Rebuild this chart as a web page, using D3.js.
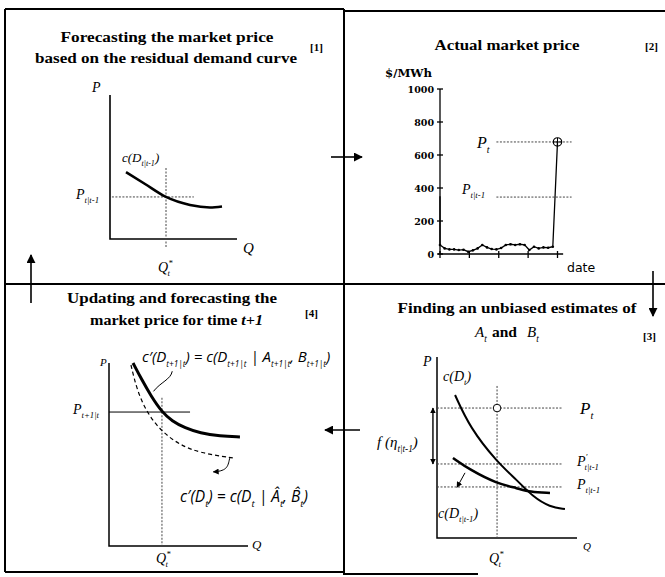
<!DOCTYPE html>
<html><head><meta charset="utf-8">
<script src="https://cdn.jsdelivr.net/npm/d3@7"></script>
<style>body{margin:0;background:#fff}svg{display:block}</style>
</head><body>
<script>
// ---- Panel [2]: observed market price ($/MWh) by date index ----
const priceDates  = [0, 0, 1, 2, 3, 4, 5, 6, 7, 8, 9, 10, 11, 12, 13, 14, 15, 16, 17, 18, 19, 20, 21, 22, 23, 24, 25];
const priceValues = [350, 55, 34, 28, 28, 24, 26, 14, 22, 34, 55, 40, 30, 28, 36, 55, 59, 55, 59, 55, 24, 44, 34, 40, 38, 44, 679];
const priceTicks  = [0, 200, 400, 600, 800, 1000];
const dateTicks   = [0, 6.25, 12.5, 18.75, 25];
const actualPrice = 679;      // P_t
const forecastPrice = 345;    // P_t|t-1

// ---- Panel [1]: residual demand curve c(D_t|t-1) ----
const q1 = [1.26, 2.76, 4.41, 6.30, 7.87, 8.82];
const p1 = [4.65, 3.82, 2.92, 2.36, 2.19, 2.26];
const q1Star = 4.41, p1Forecast = 2.92;

// ---- Panel [3]: c(D_t) versus c(D_t|t-1) ----
const q3New = [1.29, 2.36, 4.29, 5.71, 6.86, 8.07, 9.14];
const p3New = [7.9, 6.08, 4.2, 3.2, 2.27, 1.71, 1.6];
const q3Old = [1.14, 2.36, 4.29, 5.71, 6.64, 8.07];
const p3Old = [4.42, 3.76, 3.0, 2.76, 2.54, 2.49];
const q3Star = 4.29;
const p3Levels = {actual: 7.18, adjusted: 4.09, forecast: 2.82};

// ---- Panel [4]: updated curve c'(D_t+1|t) and c'(D_t) ----
const q4Upd = [1.73, 2.37, 3.02, 3.81, 4.53, 5.47, 6.55, 7.99, 9.42];
const p4Upd = [10.0, 9.07, 8.20, 7.32, 6.83, 6.45, 6.17, 6.01, 5.96];
const q4Est = [1.58, 2.01, 2.73, 3.81, 5.11, 6.55, 8.92];
const p4Est = [9.89, 8.52, 7.27, 6.23, 5.52, 5.08, 4.81];
const q4Star = 3.81, p4Forecast = 7.32;

const W = 665, H = 577;
const svg = d3.select("body").append("svg").attr("width", W).attr("height", H);
svg.append("rect").attr("width", W).attr("height", H).attr("fill", "#fff");

const defs = svg.append("defs");
defs.append("marker").attr("id", "head").attr("viewBox", "0 0 10 10")
  .attr("refX", 9).attr("refY", 5).attr("markerWidth", 9).attr("markerHeight", 9)
  .attr("markerUnits", "userSpaceOnUse").attr("orient", "auto-start-reverse")
  .append("path").attr("d", "M0,0 L10,5 L0,10 Z").attr("fill", "#000");
defs.append("marker").attr("id", "small").attr("viewBox", "0 0 10 10")
  .attr("refX", 9).attr("refY", 5).attr("markerWidth", 6).attr("markerHeight", 6)
  .attr("markerUnits", "userSpaceOnUse").attr("orient", "auto-start-reverse")
  .append("path").attr("d", "M0,0 L10,5 L0,10 Z").attr("fill", "#000");

const SERIF = "'Liberation Serif', 'DejaVu Serif', serif";
const SANS = "'Open Sans', 'DejaVu Sans', sans-serif";

// text with sub/superscript runs: parts are strings or [text, "sub"|"sup", dx]
function rich(g, x, y, parts, o) {
  const t = g.append("text").attr("x", x).attr("y", y)
    .attr("font-family", o.family || SERIF).attr("font-size", o.size)
    .attr("font-style", o.style || "italic").attr("font-weight", o.weight || "normal")
    .attr("text-anchor", o.anchor || "start").attr("fill", "#000");
  const sc = o.subScale || 0.62;
  let shift = 0;
  parts.forEach(p => {
    const [s, kind, dx] = typeof p === "string" ? [p, null, 0] : p;
    const target = kind === "sub" ? o.size * 0.3 : kind === "sup" ? -o.size * 0.45 : 0;
    const ts = t.append("tspan").text(s).attr("dy", target - shift);
    if (dx) ts.attr("dx", dx);
    if (kind) ts.attr("font-size", o.size * sc);
    shift = target;
  });
  return t;
}
function title(x, y, str, width) {
  return svg.append("text").attr("x", x).attr("y", y).attr("text-anchor", "middle")
    .attr("font-family", SERIF).attr("font-weight", "bold").attr("font-size", 15.5)
    .attr("textLength", width).attr("lengthAdjust", "spacingAndGlyphs").text(str);
}
function tag(x, y, str) {
  svg.append("text").attr("x", x).attr("y", y).attr("font-family", SERIF)
    .attr("font-weight", "bold").attr("font-size", 11).text(str);
}
const dotted = sel => sel.attr("stroke", "#444").attr("stroke-width", 1).attr("stroke-dasharray", "2,1.5").attr("fill", "none");

// ---------- frame and flow arrows ----------
const frame = svg.append("g").attr("stroke", "#000").attr("stroke-width", 2).attr("fill", "none");
frame.append("line").attr("x1", 5).attr("y1", 9).attr("x2", 344).attr("y2", 9);
frame.append("line").attr("x1", 344).attr("y1", 11).attr("x2", 665).attr("y2", 11);
frame.append("line").attr("x1", 5).attr("y1", 9).attr("x2", 5).attr("y2", 572);
frame.append("line").attr("x1", 344).attr("y1", 9).attr("x2", 344).attr("y2", 575);
frame.append("line").attr("x1", 5).attr("y1", 284).attr("x2", 665).attr("y2", 284);
frame.append("line").attr("x1", 5).attr("y1", 572).attr("x2", 344).attr("y2", 572);
frame.append("line").attr("x1", 344).attr("y1", 574).attr("x2", 478).attr("y2", 574);

const flow = svg.append("g").attr("stroke", "#000").attr("stroke-width", 1.6);
flow.append("line").attr("x1", 331).attr("y1", 157).attr("x2", 362).attr("y2", 157).attr("marker-end", "url(#head)");
flow.append("line").attr("x1", 653).attr("y1", 271).attr("x2", 653).attr("y2", 316).attr("marker-end", "url(#head)");
flow.append("line").attr("x1", 360).attr("y1", 430).attr("x2", 325).attr("y2", 430).attr("marker-end", "url(#head)");
flow.append("line").attr("x1", 31).attr("y1", 303).attr("x2", 31).attr("y2", 255).attr("marker-end", "url(#head)");

// ---------- panel [1] ----------
title(167, 42, "Forecasting the market price", 213);
title(166, 63, "based on the residual demand curve", 262);
tag(310, 51, "[1]");
{
  const x = d3.scaleLinear([0, 10], [110, 237]);
  const y = d3.scaleLinear([0, 10], [239, 95]);
  const g = svg.append("g");
  g.append("path").attr("d", `M${x(0)},${y(10)}V${y(0)}H${x(10)}`).attr("stroke", "#000").attr("stroke-width", 1.6).attr("fill", "none");
  g.append("line").attr("x1", x(q1Star)).attr("x2", x(q1Star)).attr("y1", y(4.93)).attr("y2", y(-0.6)).call(dotted);
  g.append("line").attr("x1", x(0.15)).attr("x2", x(6.6)).attr("y1", y(p1Forecast)).attr("y2", y(p1Forecast)).call(dotted);
  const line = d3.line().x(d => x(d[0])).y(d => y(d[1])).curve(d3.curveMonotoneX);
  g.append("path").attr("d", line(d3.zip(q1, p1))).attr("stroke", "#000").attr("stroke-width", 2.6).attr("fill", "none");
  rich(g, 92, 92, ["P"], {size: 14});
  rich(g, 243, 253, ["Q"], {size: 15});
  rich(g, 158, 272, ["Q", ["*", "sup"], ["t", "sub", -5]], {size: 14});
  rich(g, 122, 162, ["c(D", ["t|t-1", "sub"], ")"], {size: 13});
  rich(g, 76, 199, ["P", ["t|t-1", "sub"]], {size: 14});
}

// ---------- panel [2] ----------
title(507, 50, "Actual market price", 145);
tag(645, 50, "[2]");
{
  const x = d3.scaleLinear([0, 25], [440, 557.5]);
  const y = d3.scaleLinear([0, 1000], [254, 89]);
  const g = svg.append("g");
  const ax = g.append("g").attr("stroke", "#000").attr("stroke-width", 1.3);
  ax.append("line").attr("x1", x(0)).attr("x2", x(0)).attr("y1", y(1000)).attr("y2", y(0));
  ax.append("line").attr("x1", x(0) - 2).attr("x2", x(26.2)).attr("y1", y(0)).attr("y2", y(0));
  priceTicks.forEach(v => ax.append("line").attr("x1", x(0) - 3).attr("x2", x(0) + 3).attr("y1", y(v)).attr("y2", y(v)));
  dateTicks.forEach(d => ax.append("line").attr("x1", x(d)).attr("x2", x(d)).attr("y1", y(0) - 3).attr("y2", y(0) + 4));
  g.selectAll("text.tk").data(priceTicks).join("text").attr("class", "tk")
    .attr("x", x(0) - 6).attr("y", d => y(d) + 3.5).attr("text-anchor", "end")
    .attr("font-family", "'DejaVu Serif', serif").attr("font-weight", "bold").attr("font-size", 9.5)
    .text(d => d);
  g.append("text").attr("x", 385).attr("y", 77).attr("font-family", "'DejaVu Serif', serif")
    .attr("font-weight", "bold").attr("font-size", 10.5).attr("textLength", 47)
    .attr("lengthAdjust", "spacingAndGlyphs").text("$/MWh");
  g.append("text").attr("x", 567).attr("y", 272).attr("font-family", "'DejaVu Sans', sans-serif")
    .attr("font-size", 12.5).text("date");
  g.append("line").attr("x1", x(12)).attr("x2", x(28)).attr("y1", y(actualPrice)).attr("y2", y(actualPrice)).call(dotted);
  g.append("line").attr("x1", x(12)).attr("x2", x(28)).attr("y1", y(forecastPrice)).attr("y2", y(forecastPrice)).call(dotted);
  const pts = d3.zip(priceDates, priceValues);
  g.append("path").attr("d", d3.line().x(d => x(d[0])).y(d => y(d[1]))(pts))
    .attr("stroke", "#000").attr("stroke-width", 1.3).attr("fill", "none");
  g.selectAll("circle.pt").data(pts.slice(1, -1)).join("circle").attr("class", "pt")
    .attr("cx", d => x(d[0])).attr("cy", d => y(d[1])).attr("r", 1.3).attr("fill", "#000");
  const last = pts[pts.length - 1];
  g.append("circle").attr("cx", x(last[0])).attr("cy", y(last[1])).attr("r", 4.2)
    .attr("fill", "none").attr("stroke", "#000").attr("stroke-width", 1.2);
  g.append("path").attr("d", `M${x(last[0]) - 4},${y(last[1])}h8M${x(last[0])},${y(last[1]) - 4}v8`)
    .attr("stroke", "#000").attr("stroke-width", 1);
  rich(g, 477, 148, ["P", ["t", "sub"]], {size: 16});
  rich(g, 462, 194, ["P", ["t|t-1", "sub"]], {size: 14});
}

// ---------- panel [3] ----------
title(517, 313, "Finding an unbiased estimates of", 239);
rich(svg, 475, 337, [["A", null], ["t", "sub"], [" ", null]], {size: 15});
svg.append("text").attr("x", 492).attr("y", 337).attr("font-family", SERIF).attr("font-weight", "bold").attr("font-size", 15.5).text("and");
rich(svg, 527, 337, ["B", ["t", "sub"]], {size: 15});
tag(643, 340, "[3]");
{
  const x = d3.scaleLinear([0, 10], [437, 577]);
  const y = d3.scaleLinear([0, 10], [538, 357]);
  const g = svg.append("g");
  g.append("path").attr("d", `M${x(0)},${y(10)}V${y(0)}H${x(10)}`).attr("stroke", "#000").attr("stroke-width", 1.5).attr("fill", "none");
  g.append("line").attr("x1", x(q3Star)).attr("x2", x(q3Star)).attr("y1", y(8.4)).attr("y2", y(0)).call(dotted);
  [p3Levels.actual, p3Levels.adjusted, p3Levels.forecast].forEach(v =>
    g.append("line").attr("x1", x(0)).attr("x2", x(9)).attr("y1", y(v)).attr("y2", y(v)).call(dotted));
  const line = d3.line().x(d => x(d[0])).y(d => y(d[1])).curve(d3.curveBasis);
  g.append("path").attr("d", line(d3.zip(q3New, p3New))).attr("stroke", "#000").attr("stroke-width", 2).attr("fill", "none");
  g.append("path").attr("d", line(d3.zip(q3Old, p3Old))).attr("stroke", "#000").attr("stroke-width", 2.6).attr("fill", "none");
  g.append("circle").attr("cx", x(q3Star)).attr("cy", y(p3Levels.actual)).attr("r", 3.8)
    .attr("fill", "#fff").attr("stroke", "#000").attr("stroke-width", 1);
  g.append("line").attr("x1", x(-0.29)).attr("x2", x(-0.29)).attr("y1", y(p3Levels.actual)).attr("y2", y(p3Levels.adjusted))
    .attr("stroke", "#000").attr("stroke-width", 1.4).attr("marker-start", "url(#small)").attr("marker-end", "url(#small)");
  g.append("path").attr("d", `M${x(2)},${y(3.6)}L${x(1.43)},${y(2.8)}`).attr("stroke", "#000")
    .attr("stroke-width", 1).attr("fill", "none").attr("marker-end", "url(#small)");
  rich(g, 423, 366, ["P"], {size: 14});
  rich(g, 443, 381, ["c(D", ["t", "sub"], ")"], {size: 14});
  rich(g, 377, 447, ["f (", "\u03B7", ["t|t-1", "sub"], ")"], {size: 15});
  rich(g, 580, 414, ["P", ["t", "sub"]], {size: 17});
  rich(g, 577, 466, ["P", ["\u2032", "sup"], ["t|t-1", "sub", -3]], {size: 14});
  rich(g, 577, 489, ["P", ["t|t-1", "sub"]], {size: 14});
  rich(g, 438, 518, ["c(D", ["t|t-1", "sub"], ")"], {size: 14});
  rich(g, 583, 550, ["Q"], {size: 11});
  rich(g, 489, 563, ["Q", ["*", "sup"], ["t", "sub", -5]], {size: 14});
}

// ---------- panel [4] ----------
title(172, 303, "Updating and forecasting the", 210);
{
  const t = svg.append("text").attr("x", 90).attr("y", 325).attr("font-family", SERIF)
    .attr("font-weight", "bold").attr("font-size", 15.5);
  t.append("tspan").text("market price for time ");
  t.append("tspan").attr("font-style", "italic").text("t+1");
  t.attr("textLength", 173).attr("lengthAdjust", "spacingAndGlyphs");
}
tag(305, 317, "[4]");
{
  const x = d3.scaleLinear([0, 10], [109, 248]);
  const y = d3.scaleLinear([0, 10], [546, 363]);
  const g = svg.append("g");
  g.append("path").attr("d", `M${x(0)},${y(10)}V${y(0)}H${x(10)}`).attr("stroke", "#000").attr("stroke-width", 1.5).attr("fill", "none");
  g.append("line").attr("x1", x(q4Star)).attr("x2", x(q4Star)).attr("y1", y(8.1)).attr("y2", y(0)).call(dotted);
  g.append("line").attr("x1", x(0)).attr("x2", x(5.83)).attr("y1", y(p4Forecast)).attr("y2", y(p4Forecast))
    .attr("stroke", "#000").attr("stroke-width", 1);
  const line = d3.line().x(d => x(d[0])).y(d => y(d[1])).curve(d3.curveBasis);
  g.append("path").attr("d", line(d3.zip(q4Est, p4Est))).attr("stroke", "#000").attr("stroke-width", 1.2)
    .attr("stroke-dasharray", "4,3").attr("fill", "none");
  g.append("path").attr("d", line(d3.zip(q4Upd, p4Upd))).attr("stroke", "#000").attr("stroke-width", 3).attr("fill", "none");
  // leader lines from the labels to their curves
  g.append("path").attr("d", `M${x(4.55)},${y(9.55)}C${x(4.45)},${y(9.1)} ${x(3.7)},${y(8.95)} ${x(3.2)},${y(8.45)}`)
    .attr("stroke", "#000").attr("stroke-width", 1).attr("fill", "none");
  g.append("path").attr("d", `M${x(8.7)},${y(4.85)}C${x(8.55)},${y(4.4)} ${x(8.6)},${y(4.1)} ${x(7.5)},${y(4.05)}`)
    .attr("stroke", "#000").attr("stroke-width", 1).attr("fill", "none").attr("marker-end", "url(#small)");
  rich(g, 100, 366, ["P"], {size: 11});
  rich(g, 73, 414, ["P", ["t+1|t", "sub"]], {size: 14});
  rich(g, 142, 362, ["c\u2032(D", ["t+1|t", "sub"], ") = c(D", ["t+1|t", "sub"], " | A", ["t+1|t", "sub"], ", B", ["t+1|t", "sub"], ")"],
    {size: 15, family: SANS, subScale: 0.55});
  rich(g, 180, 502, ["c\u2032(D", ["t", "sub"], ") = c(D", ["t", "sub"], " | \u00C2", ["t", "sub"], ", B\u0302", ["t", "sub"], ")"],
    {size: 15.5, family: SANS});
  rich(g, 252, 549, ["Q"], {size: 13});
  rich(g, 156, 563, ["Q", ["*", "sup"], ["t", "sub", -5]], {size: 14});
}
</script>
</body></html>
